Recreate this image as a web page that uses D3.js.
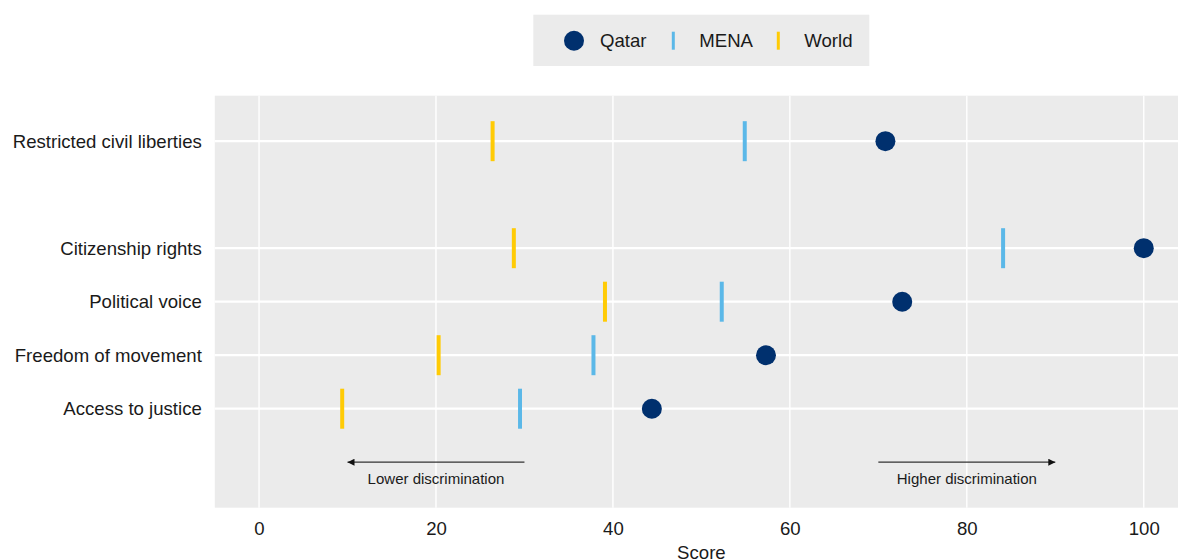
<!DOCTYPE html>
<html>
<head>
<meta charset="utf-8">
<script src="https://cdn.jsdelivr.net/npm/d3@7"></script>
<style>
  body { margin: 0; background: #fff; }
  svg { display: block; font-family: "Liberation Sans", Arial, sans-serif; }
</style>
</head>
<body>
<svg width="1178" height="560"></svg>
<script>
// data
var categories = ['Access to justice', 'Freedom of movement', 'Political voice', 'Citizenship rights', 'Restricted civil liberties'];
var rowPos = [1, 2, 3, 4, 6];
var qatar = [44.4, 57.3, 72.7, 100, 70.8];
var mena = [29.5, 37.8, 52.3, 84.1, 54.9];
var world = [9.4, 20.3, 39.1, 28.8, 26.4];
var xTicks = [0, 20, 40, 60, 80, 100];
var seriesNames = ['Qatar', 'MENA', 'World'];
var arrowFrom = [30, 70];
var arrowTo = [10, 90];
var arrowLabels = ['Lower discrimination', 'Higher discrimination'];

var colors = {Qatar: '#00306e', MENA: '#5bb8e8', World: '#ffcb05'};
var fs = 18.6;

var svg = d3.select('svg');
var panel = {l: 214.8, r: 1188, t: 95.7, b: 507.7};

var x = d3.scaleLinear().domain([-5, 105]).range([panel.l, panel.r]);
var y = d3.scaleLinear().domain([-0.85, 6.85]).range([panel.b, panel.t]);

// panel background
svg.append('rect')
    .attr('x', panel.l).attr('y', panel.t)
    .attr('width', panel.r - panel.l).attr('height', panel.b - panel.t)
    .attr('fill', '#ebebeb');

// grid lines
svg.append('g').selectAll('line').data(xTicks).enter().append('line')
    .attr('x1', function(d){ return x(d); }).attr('x2', function(d){ return x(d); })
    .attr('y1', panel.t).attr('y2', panel.b)
    .attr('stroke', '#fff').attr('stroke-width', 1.4);
svg.append('g').selectAll('line').data(rowPos).enter().append('line')
    .attr('x1', panel.l).attr('x2', panel.r)
    .attr('y1', function(d){ return y(d); }).attr('y2', function(d){ return y(d); })
    .attr('stroke', '#fff').attr('stroke-width', 2.2);

// axes
var xAxis = d3.axisBottom(x).tickValues(xTicks).tickSize(0).tickPadding(14);
var gx = svg.append('g').attr('transform', 'translate(0,' + panel.b + ')').call(xAxis);
gx.select('.domain').remove();
gx.selectAll('text').attr('font-size', fs).attr('fill', '#1a1a1a').attr('font-family', null);

var yAxis = d3.axisLeft(y).tickValues(rowPos)
    .tickFormat(function(d, i){ return categories[i]; })
    .tickSize(0).tickPadding(13);
var gy = svg.append('g').attr('transform', 'translate(' + panel.l + ',0)').call(yAxis);
gy.select('.domain').remove();
gy.selectAll('text').attr('font-size', fs).attr('fill', '#1a1a1a').attr('font-family', null);

svg.append('text')
    .attr('x', (panel.l + panel.r) / 2).attr('y', 558.5)
    .attr('text-anchor', 'middle').attr('font-size', fs).attr('fill', '#1a1a1a')
    .text('Score');

// annotation arrows
var defs = svg.append('defs');
defs.append('marker')
    .attr('id', 'head').attr('viewBox', '0 0 10 10')
    .attr('refX', 10).attr('refY', 5)
    .attr('markerWidth', 8).attr('markerHeight', 7)
    .attr('markerUnits', 'userSpaceOnUse')
    .attr('orient', 'auto')
    .append('path').attr('d', 'M0,0 L10,5 L0,10 Z').attr('fill', '#111');

var ann = svg.append('g');
arrowFrom.forEach(function(f, i){
    ann.append('line')
        .attr('x1', x(f)).attr('x2', x(arrowTo[i]))
        .attr('y1', y(0)).attr('y2', y(0))
        .attr('stroke', '#333').attr('stroke-width', 1.3)
        .attr('marker-end', 'url(#head)');
    ann.append('text')
        .attr('x', x((f + arrowTo[i]) / 2)).attr('y', y(0) + 22)
        .attr('text-anchor', 'middle').attr('font-size', 15).attr('fill', '#1a1a1a')
        .text(arrowLabels[i]);
});

// marks
var halfTick = 20;
function tickMarks(vals, name) {
    svg.append('g').selectAll('line').data(vals).enter().append('line')
        .attr('x1', function(d){ return x(d); }).attr('x2', function(d){ return x(d); })
        .attr('y1', function(d, i){ return y(rowPos[i]) - halfTick; })
        .attr('y2', function(d, i){ return y(rowPos[i]) + halfTick; })
        .attr('stroke', colors[name]).attr('stroke-width', 4);
}
tickMarks(world, 'World');
tickMarks(mena, 'MENA');
svg.append('g').selectAll('circle').data(qatar).enter().append('circle')
    .attr('cx', function(d){ return x(d); })
    .attr('cy', function(d, i){ return y(rowPos[i]); })
    .attr('r', 10).attr('fill', colors.Qatar);

// legend
var lg = svg.append('g');
lg.append('rect').attr('x', 533.3).attr('y', 14.7).attr('width', 336).attr('height', 51.3).attr('fill', '#ebebeb');
var legendX = [574, 673.3, 778.3];
var legendY = 40.7;
seriesNames.forEach(function(name, i){
    if (name === 'Qatar') {
        lg.append('circle').attr('cx', legendX[i]).attr('cy', legendY).attr('r', 10).attr('fill', colors[name]);
    } else {
        lg.append('line').attr('x1', legendX[i]).attr('x2', legendX[i])
            .attr('y1', legendY - 9).attr('y2', legendY + 9)
            .attr('stroke', colors[name]).attr('stroke-width', 3);
    }
    lg.append('text')
        .attr('x', legendX[i] + 26).attr('y', legendY + 6.5)
        .attr('font-size', fs).attr('fill', '#1a1a1a')
        .text(name);
});
</script>
</body>
</html>
